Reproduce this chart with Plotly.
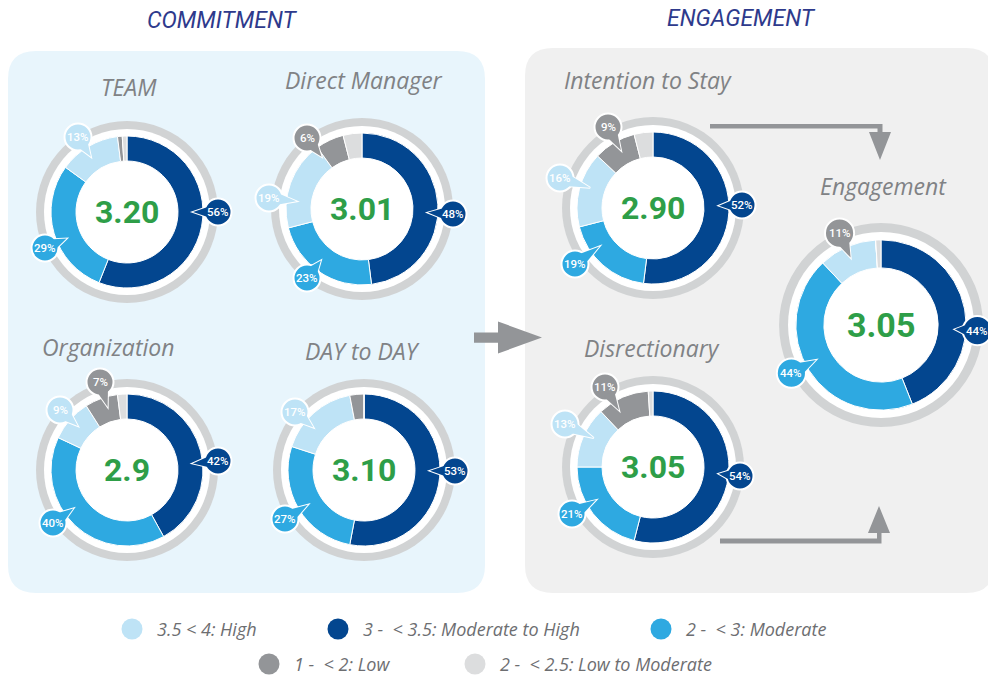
import math
import plotly.graph_objects as go

W, H = 988, 675

# ---------------- data ----------------
charts = ["TEAM", "Direct Manager", "Organization", "DAY to DAY",
          "Intention to Stay", "Disrectionary", "Engagement"]
scores = ["3.20", "3.01", "2.9", "3.10", "2.90", "3.05", "3.05"]
# slice order (clockwise from 12 o'clock)
moderate_to_high = [56, 48, 42, 53, 52, 54, 44]
moderate = [29, 23, 40, 27, 19, 21, 44]
high = [13, 19, 9, 17, 16, 13, 11]
low = [1, 6, 7, 3, 9, 11, 0]
low_to_moderate = [1, 4, 2, 0, 4, 1, 1]

category_labels = ["3 -  < 3.5: Moderate to High", "2 -  < 3: Moderate",
                   "3.5 < 4: High", "1 -  < 2: Low", "2 -  < 2.5: Low to Moderate"]
section_titles = ["COMMITMENT", "ENGAGEMENT"]

# ---------------- styles / layout ----------------
slice_colors = ["#03468F", "#2EA9E1", "#BEE3F6", "#939598", "#DCDDDE"]
ring_grey = "#D1D3D4"
green = "#2E9E48"
title_grey = "#808285"
header_blue = "#2E3A8C"
arrow_grey = "#939598"
COND = "Noto Sans ExtraCondensed, Noto Sans Condensed, Liberation Sans Narrow, Roboto"

# donut centre (px), scale factor
donut_pos = [(127, 212, 1.0), (362, 209, 1.0), (127, 470, 1.0), (364, 470, 1.0),
             (653, 208, 1.0), (653, 467, 1.0), (881, 325, 1.12)]
title_pos = [(129, 87), (364, 80), (108, 347), (362, 351), (648, 80), (652, 348), (883, 186)]
# bubble offsets from centre (px) keyed by slice index
bubble_off = [
    {0: (91, 0), 1: (-82, 36), 2: (-49, -75)},
    {0: (91, 5), 1: (-55, 69), 2: (-93, -11), 3: (-55, -71)},
    {0: (91, -9), 1: (-74, 53), 2: (-67, -60), 3: (-27, -88)},
    {0: (91, 1), 1: (-79, 49), 2: (-69, -58)},
    {0: (89, -3), 1: (-78, 56), 2: (-93, -30), 3: (-45, -81)},
    {0: (87, 9), 1: (-81, 47), 2: (-88, -43), 3: (-48, -80)},
    {0: (86, 5), 1: (-80, 43), 2: (-37, -82)},
]
bubble_color_override = {(6, 2): "#939598"}

R_GREY, R_WHITE, R_OUT, R_HOLE, R_TIP, R_BUB = 91, 83, 76, 51, 66, 13.5

def px(x):
    return x / W

def py(y):
    return 1 - y / H

def P(x, y):
    return f"{px(x):.5f},{py(y):.5f}"

shapes = []
annotations = []

def circle(cx, cy, r, fill, line_color=None, line_width=0, layer="below"):
    shapes.append(dict(type="circle", xref="paper", yref="paper",
                       x0=px(cx - r), x1=px(cx + r), y0=py(cy + r), y1=py(cy - r),
                       fillcolor=fill, line=dict(color=line_color or fill, width=line_width),
                       layer=layer))

def poly(points, fill, line_color=None, line_width=0, layer="below"):
    path = "M" + " L".join(P(x, y) for x, y in points) + " Z"
    shapes.append(dict(type="path", xref="paper", yref="paper", path=path,
                       fillcolor=fill, line=dict(color=line_color or fill, width=line_width),
                       layer=layer))

def rounded_rect(x0, y0, x1, y1, r, fill):
    path = (f"M{P(x0 + r, y0)} L{P(x1 - r, y0)} Q{P(x1, y0)} {P(x1, y0 + r)} "
            f"L{P(x1, y1 - r)} Q{P(x1, y1)} {P(x1 - r, y1)} L{P(x0 + r, y1)} "
            f"Q{P(x0, y1)} {P(x0, y1 - r)} L{P(x0, y0 + r)} Q{P(x0, y0)} {P(x0 + r, y0)} Z")
    shapes.append(dict(type="path", xref="paper", yref="paper", path=path,
                       fillcolor=fill, line=dict(width=0), layer="below"))

def text(x, y, s, size, color, family="Open Sans", style="normal", weight="normal",
         xanchor="center"):
    annotations.append(dict(x=px(x), y=py(y), xref="paper", yref="paper", text=s,
                            showarrow=False, xanchor=xanchor, yanchor="middle",
                            font=dict(size=size, color=color, family=family,
                                      style=style, weight=weight)))

# panels
rounded_rect(8, 51, 485, 593, 28, "#E8F5FC")
rounded_rect(525, 48, 994, 593, 28, "#F0F0F0")

# section headers
text(222, 21, section_titles[0], 23, header_blue, family=COND, style="italic")
text(741, 19, section_titles[1], 23, header_blue, family=COND, style="italic")

# arrows
poly([(474, 332.5), (498, 332.5), (498, 321.5), (542, 337.5), (498, 353.5),
      (498, 342.7), (474, 342.7)], arrow_grey)
poly([(710, 124), (882.5, 124), (882.5, 132), (891, 132), (880, 160), (869, 132),
      (877.5, 132), (877.5, 128.5), (710, 128.5)], arrow_grey)
poly([(720, 538.5), (877, 538.5), (877, 533), (868, 533), (879, 506), (890, 533),
      (881.5, 533), (881.5, 543.5), (720, 543.5)], arrow_grey)

fig = go.Figure()

for i, name in enumerate(charts):
    cx, cy, s = donut_pos[i]
    vals = [moderate_to_high[i], moderate[i], high[i], low[i], low_to_moderate[i]]
    circle(cx, cy, R_GREY * s, ring_grey)
    circle(cx, cy, R_WHITE * s, "white")
    ro = R_OUT * s
    fig.add_trace(go.Pie(
        values=vals, labels=category_labels, sort=False, direction="clockwise",
        rotation=0, hole=R_HOLE / R_OUT, textinfo="none", hoverinfo="skip",
        marker=dict(colors=slice_colors, line=dict(color="white", width=1)),
        domain=dict(x=[px(cx - ro), px(cx + ro)], y=[py(cy + ro), py(cy - ro)]),
        showlegend=False))
    # title and score
    tx, ty = title_pos[i]
    text(tx, ty, name, 23, title_grey, style="italic")
    text(cx, cy, scores[i], 34 if s > 1 else 32, green, family=COND, weight="bold")
    # bubbles
    for k, v in enumerate(vals):
        if k not in bubble_off[i]:
            continue
        dx, dy = bubble_off[i][k]
        bx, by = cx + dx * s, cy + dy * s
        dist = math.hypot(dx, dy)
        tipx, tipy = cx + dx / dist * R_TIP * s, cy + dy / dist * R_TIP * s
        ux, uy = (tipx - bx), (tipy - by)
        L = math.hypot(ux, uy)
        ux, uy = ux / L, uy / L
        pxv, pyv = -uy, ux
        rb = R_BUB * (1.08 if s > 1 else 1)
        b1 = (bx + ux * rb * 0.55 + pxv * rb * 0.45, by + uy * rb * 0.55 + pyv * rb * 0.45)
        b2 = (bx + ux * rb * 0.55 - pxv * rb * 0.45, by + uy * rb * 0.55 - pyv * rb * 0.45)
        col = bubble_color_override.get((i, k), slice_colors[k])
        poly([b1, (tipx, tipy), b2], col, "white", 2, layer="above")
        circle(bx, by, rb, col, "white", 2, layer="above")
        poly([b1, (tipx, tipy), b2], col, None, 0, layer="above")
        text(bx, by, f"{v}%", 11.5, "white", family="Roboto", weight=500)

# legend (custom)
legend_items = [(2, 132, 629), (0, 338, 629), (1, 661, 629), (3, 269, 664), (4, 475, 664)]
for k, lx, ly in legend_items:
    circle(lx, ly, 10.5, slice_colors[k])
    text(lx + 23, ly, category_labels[k], 18, "#6D6E71", style="italic", xanchor="left")

fig.update_layout(
    width=W, height=H, margin=dict(l=0, r=0, t=0, b=0),
    paper_bgcolor="white", plot_bgcolor="white",
    shapes=shapes, annotations=annotations, showlegend=False,
)
fig.write_html("out.html", config={"displayModeBar": False},
               post_script="document.body.style.margin='0';document.body.style.overflow='hidden';")
